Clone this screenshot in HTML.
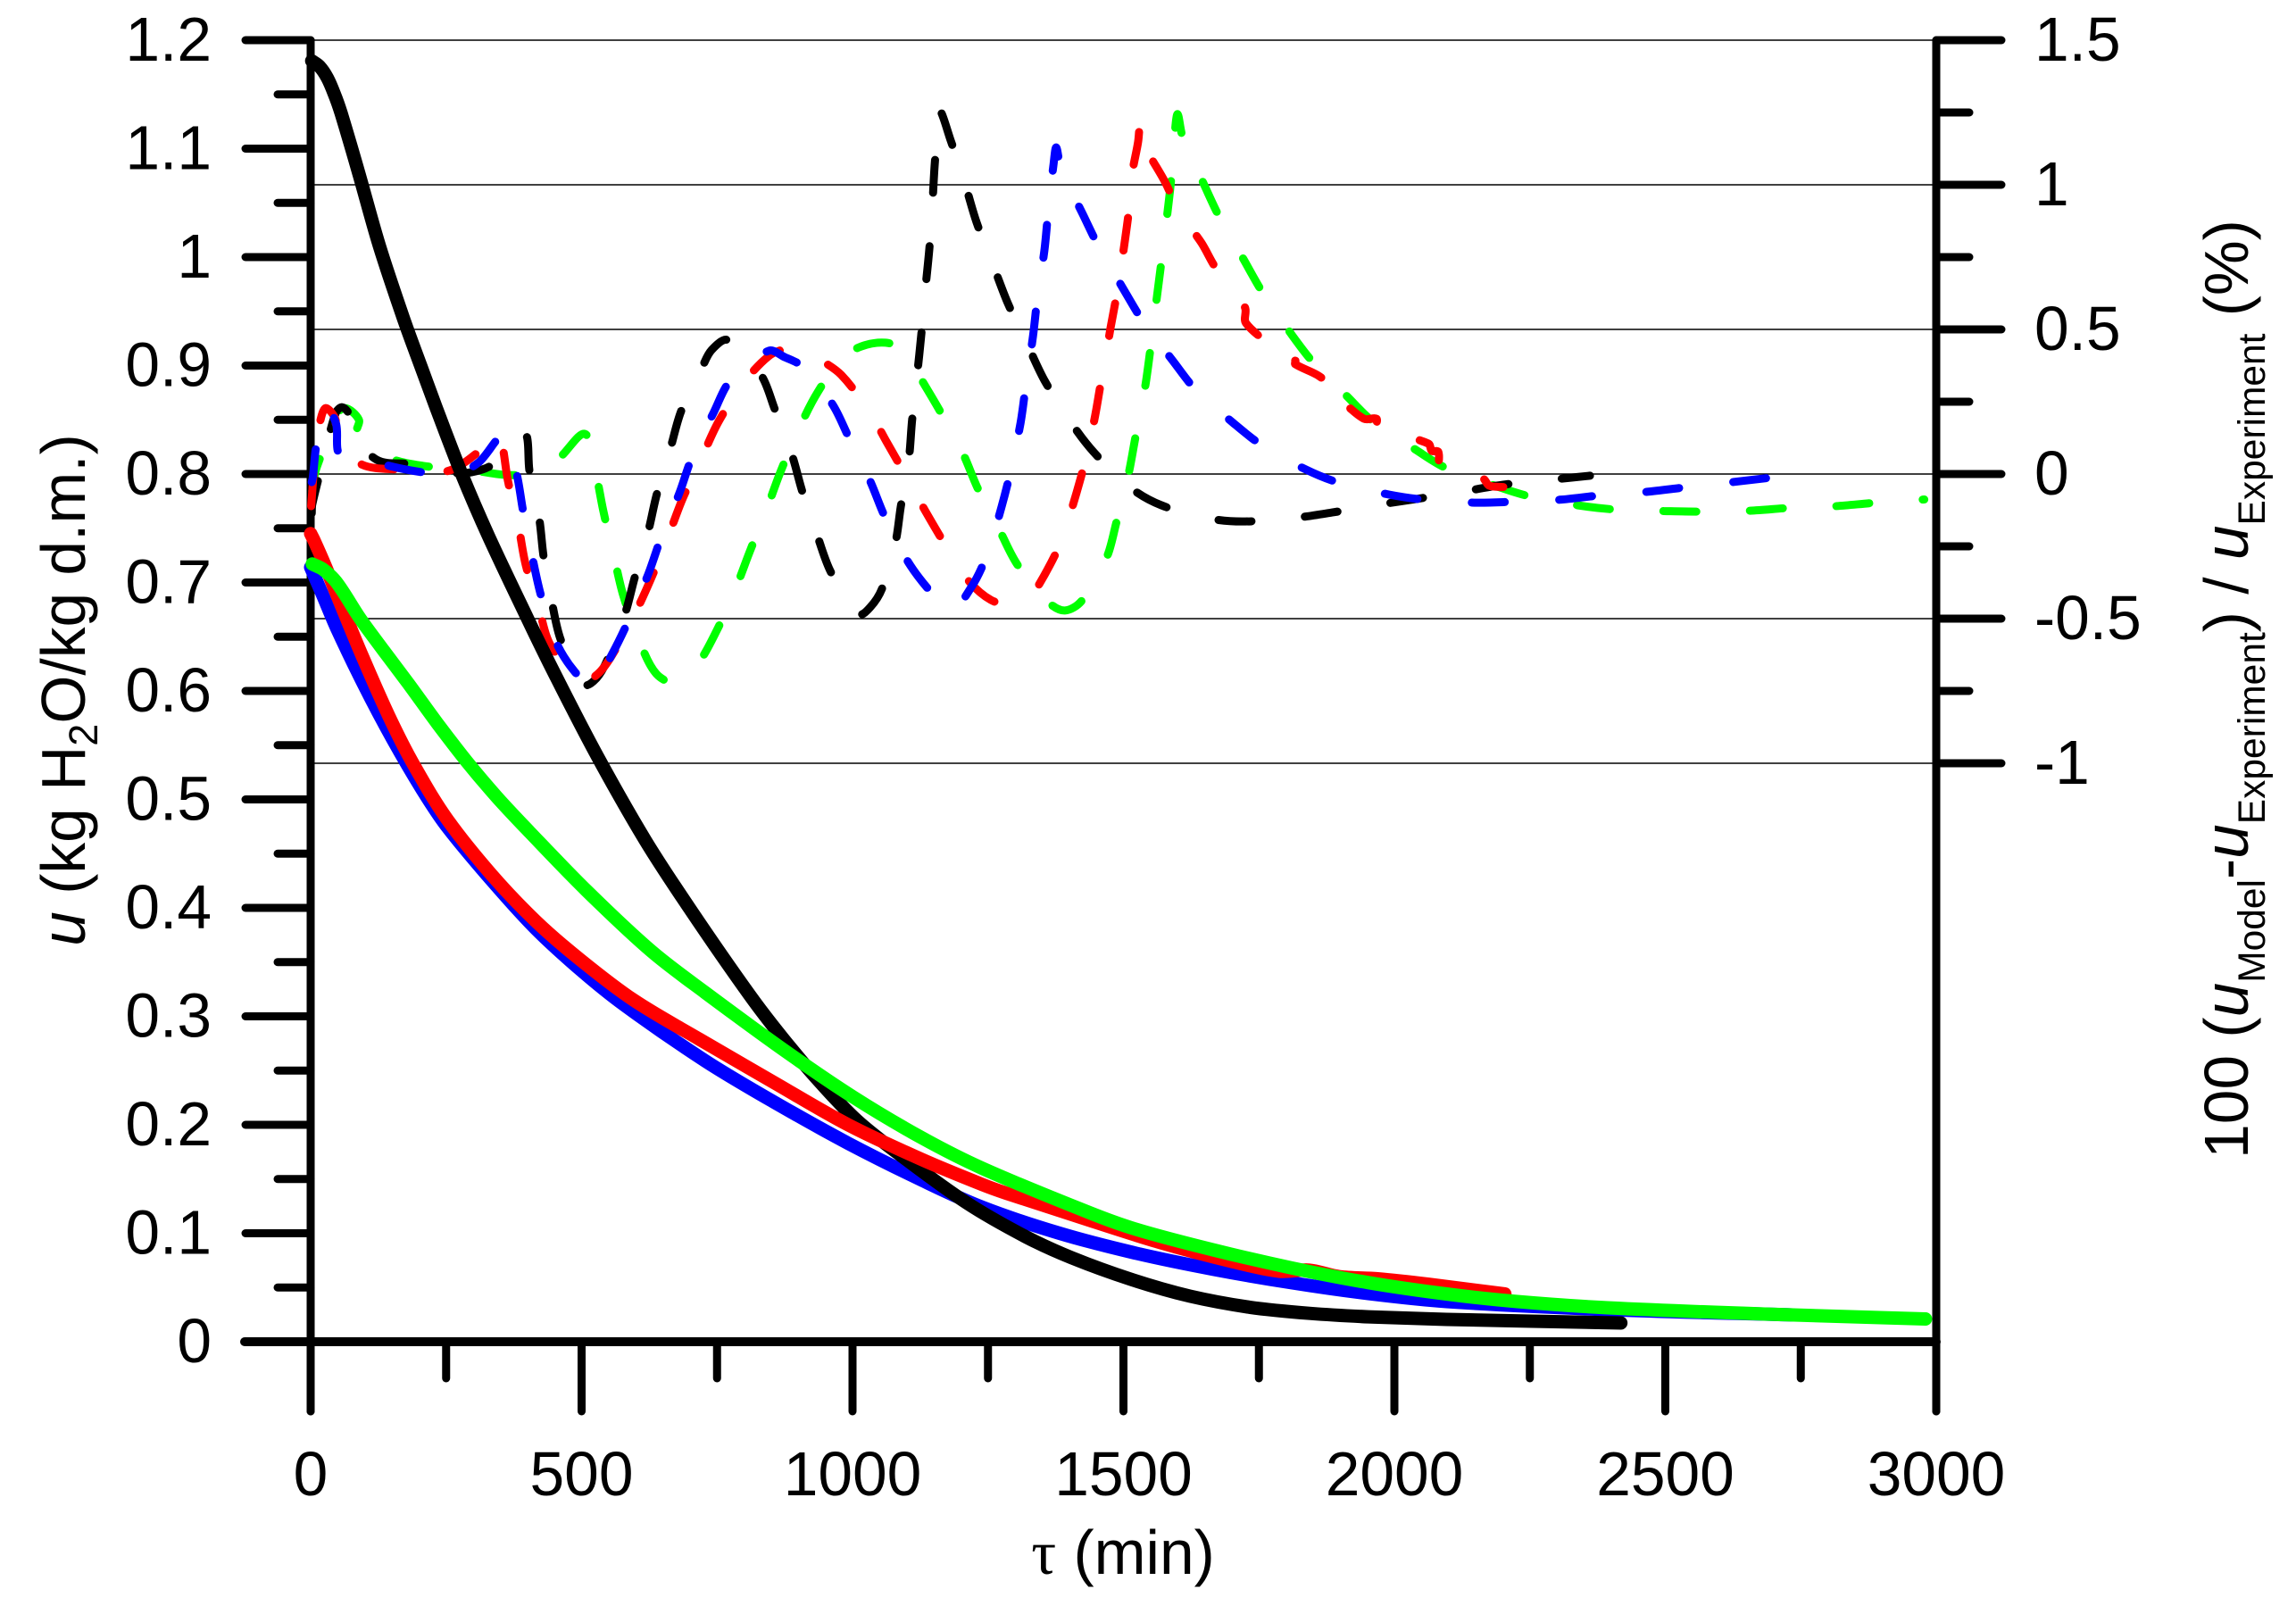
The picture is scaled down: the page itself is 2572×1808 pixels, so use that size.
<!DOCTYPE html>
<html lang="en">
<head>
<meta charset="utf-8">
<title>Moisture content and model deviation versus drying time</title>
<style>
  html, body { margin: 0; padding: 0; background: #fff; }
  svg { display: block; }
  text { font-family: "Liberation Sans", Arial, sans-serif; fill: #000; font-size: 69.5px; }
</style>
</head>
<body>
<svg id="chart" xmlns="http://www.w3.org/2000/svg" width="2572" height="1808" viewBox="0 0 2572 1808">
  <rect x="0" y="0" width="2572" height="1808" fill="#ffffff"/>
  <g id="grid"></g>
  <g id="axes"></g>
  <g id="ticklabels"></g>
  <g id="deviations"></g>
  <g id="moisture"></g>
  <text x="1258" y="1763" text-anchor="middle"><tspan font-family="Liberation Serif, serif">τ</tspan> (min)</text>
  <text transform="translate(95 773) rotate(-90)" text-anchor="middle"><tspan font-style="italic">u</tspan> (kg H<tspan dy="14" font-size="45">2</tspan><tspan dy="-14">O/kg d.m.)</tspan></text>
  <text transform="translate(2518 772) rotate(-90)" text-anchor="middle">100 (<tspan font-style="italic">u</tspan><tspan dy="19" font-size="42.5">Model</tspan><tspan dy="-19">-</tspan><tspan font-style="italic">u</tspan><tspan dy="19" font-size="42.5">Experiment</tspan><tspan dy="-19">) / </tspan><tspan font-style="italic">u</tspan><tspan dy="19" font-size="42.5">Experiment</tspan><tspan dy="-19"> (%)</tspan></text>
</svg>
<script>
// ---- Axis ticks and labels ----
const xMajorTicks = [0, 500, 1000, 1500, 2000, 2500, 3000];
const xMinorTicks = [250, 750, 1250, 1750, 2250, 2750];
const xTickLabels = ["0", "500", "1000", "1500", "2000", "2500", "3000"];
const leftMajorTicks = [0, 0.1, 0.2, 0.3, 0.4, 0.5, 0.6, 0.7, 0.8, 0.9, 1, 1.1, 1.2];
const leftMinorTicks = [0.05, 0.15, 0.25, 0.35, 0.45, 0.55, 0.65, 0.75, 0.85, 0.95, 1.05, 1.15];
const leftTickLabels = ["0", "0.1", "0.2", "0.3", "0.4", "0.5", "0.6", "0.7", "0.8", "0.9", "1", "1.1", "1.2"];
const rightMajorTicks = [-1, -0.5, 0, 0.5, 1, 1.5];
const rightMinorTicks = [-0.75, -0.25, 0.25, 0.75, 1.25];
const rightTickLabels = ["-1", "-0.5", "0", "0.5", "1", "1.5"];

// ---- Moisture content u (solid lines) ----
const blackMoistureTau = [2, 16, 31, 44, 56, 89, 127, 173, 203, 231, 278, 328, 400, 453, 530, 618, 700, 811, 871, 937, 1008, 1086, 1211, 1321, 1404, 1514, 1623, 1733, 1843, 1952, 2096, 2418];
const blackMoistureU = [1.181, 1.176, 1.165, 1.15, 1.133, 1.077, 1.01, 0.941, 0.9, 0.862, 0.801, 0.743, 0.667, 0.613, 0.539, 0.462, 0.399, 0.319, 0.28, 0.241, 0.204, 0.173, 0.128, 0.0965, 0.0775, 0.0575, 0.042, 0.0318, 0.0262, 0.023, 0.0206, 0.0173];
const blueMoistureTau = [0, 20, 48, 97, 152, 206, 250, 333, 415, 498, 580, 728, 855, 992, 1128, 1239, 1382, 1524, 1667, 1811, 1952, 2096, 2394, 2735];
const blueMoistureU = [0.714, 0.691, 0.658, 0.607, 0.555, 0.509, 0.476, 0.426, 0.381, 0.343, 0.31, 0.259, 0.221, 0.183, 0.149, 0.124, 0.1, 0.0815, 0.0667, 0.0543, 0.0444, 0.037, 0.0296, 0.0247];
const redMoistureTau = [0, 7, 28, 58, 97, 147, 189, 250, 333, 415, 498, 596, 717, 855, 992, 1128, 1239, 1283, 1437, 1568, 1700, 1787, 1843, 1898, 1969, 2063, 2204];
const redMoistureU = [0.745, 0.738, 0.714, 0.677, 0.63, 0.574, 0.533, 0.483, 0.431, 0.388, 0.352, 0.315, 0.279, 0.239, 0.2, 0.168, 0.145, 0.137, 0.112, 0.0914, 0.074, 0.065, 0.066, 0.06, 0.058, 0.053, 0.044];
const greenMoistureTau = [3, 23, 48, 91, 135, 180, 234, 288, 344, 404, 509, 629, 728, 876, 1003, 1128, 1239, 1437, 1524, 1667, 1811, 1952, 2096, 2227, 2394, 2684, 2980];
const greenMoistureU = [0.717, 0.712, 0.7, 0.667, 0.637, 0.607, 0.57, 0.535, 0.502, 0.47, 0.416, 0.36, 0.322, 0.268, 0.225, 0.188, 0.16, 0.119, 0.1035, 0.0845, 0.068, 0.0545, 0.044, 0.037, 0.0313, 0.0255, 0.021];

// ---- Relative deviation in % (dashed lines) ----
const blackDevTau = [2, 3, 20, 46, 58, 72, 76, 122, 189, 273, 316, 346, 395, 404, 422, 430, 446, 463, 506, 527, 547, 580, 598, 623, 639, 664, 684, 722, 740, 770, 830, 857, 888, 908, 936, 962, 1013, 1033, 1054, 1079, 1089, 1104, 1110, 1120, 1127, 1135, 1142, 1148, 1152, 1160, 1181, 1209, 1229, 1262, 1287, 1325, 1356, 1404, 1446, 1512, 1570, 1659, 1725, 1819, 1885, 1975, 2041, 2132, 2201, 2293, 2361];
const blackDevPct = [-0.136, -0.105, 0.025, 0.21, 0.231, 0.204, 0.151, 0.049, 0.034, 0.003, 0.015, 0.046, 0.139, 0.009, -0.157, -0.287, -0.451, -0.58, -0.728, -0.707, -0.645, -0.484, -0.358, -0.198, -0.068, 0.089, 0.219, 0.367, 0.429, 0.463, 0.346, 0.222, 0.068, -0.065, -0.219, -0.346, -0.484, -0.46, -0.398, -0.238, -0.114, 0.052, 0.188, 0.355, 0.484, 0.648, 0.784, 0.95, 1.08, 1.256, 1.154, 0.994, 0.87, 0.71, 0.589, 0.438, 0.318, 0.176, 0.074, -0.046, -0.108, -0.154, -0.164, -0.151, -0.133, -0.105, -0.086, -0.059, -0.037, -0.019, -0.006];
const blueDevTau = [2, 4, 12, 30, 47, 51, 68, 152, 219, 267, 310, 356, 379, 392, 409, 425, 451, 488, 522, 557, 589, 623, 647, 680, 704, 743, 776, 845, 875, 906, 962, 993, 1032, 1059, 1100, 1140, 1181, 1219, 1249, 1275, 1292, 1310, 1320, 1333, 1341, 1354, 1361, 1371, 1376, 1385, 1425, 1455, 1501, 1537, 1591, 1634, 1703, 1756, 1837, 1899, 1990, 2056, 2148, 2216, 2305, 2379, 2463, 2537, 2623, 2697];
const blueDevPct = [-0.028, -0.012, 0.117, 0.225, 0.173, 0.074, 0.071, 0.025, 0.003, 0, 0.04, 0.133, 0.009, -0.127, -0.287, -0.42, -0.574, -0.685, -0.731, -0.62, -0.497, -0.346, -0.219, -0.068, 0.059, 0.21, 0.327, 0.426, 0.404, 0.373, 0.244, 0.127, -0.022, -0.145, -0.296, -0.398, -0.472, -0.392, -0.275, -0.114, 0.012, 0.176, 0.309, 0.475, 0.605, 0.772, 0.904, 1.071, 1.129, 1.055, 0.898, 0.784, 0.636, 0.525, 0.392, 0.29, 0.176, 0.099, 0.015, -0.031, -0.071, -0.089, -0.099, -0.096, -0.089, -0.074, -0.062, -0.046, -0.028, -0.012];
const redDevTau = [1, 5, 10, 18, 28, 46, 43, 93, 165, 250, 308, 343, 353, 364, 384, 397, 422, 445, 505, 530, 555, 598, 629, 661, 687, 723, 753, 799, 845, 877, 918, 934, 979, 1032, 1063, 1105, 1135, 1180, 1216, 1255, 1295, 1322, 1341, 1382, 1399, 1420, 1433, 1447, 1458, 1466, 1476, 1489, 1499, 1511, 1516, 1527, 1531, 1536, 1577, 1603, 1644, 1669, 1707, 1715, 1725, 1726, 1778, 1778, 1797, 1799, 1817, 1817, 1867, 1868, 1880, 1881, 1898, 1944, 1967, 1967, 1990, 1990, 2063, 2069, 2081, 2086, 2163, 2175, 2201];
const redDevPct = [-0.111, -0.009, 0.08, 0.185, 0.228, 0.188, 0.127, 0.034, 0.015, 0.009, 0.074, 0.145, 0.105, -0.022, -0.185, -0.315, -0.472, -0.599, -0.713, -0.691, -0.63, -0.484, -0.358, -0.21, -0.083, 0.062, 0.182, 0.315, 0.407, 0.432, 0.429, 0.404, 0.343, 0.213, 0.111, -0.028, -0.13, -0.272, -0.373, -0.435, -0.454, -0.432, -0.392, -0.247, -0.154, -0.022, 0.074, 0.194, 0.312, 0.392, 0.503, 0.636, 0.759, 0.926, 1.037, 1.148, 1.219, 1.148, 1.009, 0.907, 0.799, 0.716, 0.617, 0.605, 0.571, 0.522, 0.432, 0.414, 0.414, 0.392, 0.392, 0.38, 0.33, 0.29, 0.29, 0.256, 0.256, 0.191, 0.191, 0.16, 0.157, 0.148, 0.105, 0.08, 0.077, 0.019, -0.015, -0.04, -0.045];
const greenDevTau = [3, 8, 18, 40, 63, 89, 86, 142, 208, 291, 359, 407, 455, 506, 526, 540, 560, 577, 606, 638, 675, 713, 749, 785, 811, 843, 868, 903, 936, 980, 1016, 1061, 1094, 1124, 1161, 1203, 1231, 1273, 1305, 1362, 1392, 1423, 1468, 1487, 1509, 1522, 1539, 1549, 1560, 1569, 1580, 1588, 1595, 1600, 1610, 1647, 1677, 1722, 1756, 1807, 1850, 1913, 1960, 2040, 2097, 2193, 2249, 2338, 2410, 2497, 2572, 2656, 2731, 2814, 2890, 2978];
const greenDevPct = [-0.059, 0.003, 0.059, 0.188, 0.228, 0.188, 0.142, 0.059, 0.028, 0.015, -0.003, 0.003, 0.049, 0.139, 0.006, -0.127, -0.287, -0.42, -0.574, -0.691, -0.722, -0.66, -0.543, -0.392, -0.265, -0.114, 0.012, 0.164, 0.284, 0.398, 0.441, 0.454, 0.429, 0.336, 0.219, 0.074, -0.049, -0.201, -0.315, -0.444, -0.472, -0.438, -0.293, -0.167, -0.003, 0.127, 0.29, 0.421, 0.586, 0.719, 0.886, 1.018, 1.185, 1.244, 1.16, 1.008, 0.889, 0.741, 0.63, 0.491, 0.386, 0.268, 0.182, 0.083, 0.019, -0.045, -0.077, -0.108, -0.123, -0.128, -0.13, -0.127, -0.117, -0.111, -0.099, -0.088];

// ---- Axis functions ----
const xScale = t => 348 + t * 0.607;
const leftScale = u => 1503 - u * 1215;
const rightScale = p => 531 - p * 324;

const SVG_NS = "http://www.w3.org/2000/svg";
const AX_LEFT = xScale(0);
const AX_RIGHT = xScale(3000);
const AX_TOP = leftScale(1.2);
const AX_BOTTOM = leftScale(0);
const AX_END = 1581;

function line(parent, x1, y1, x2, y2, width, cap) {
  const el = document.createElementNS(SVG_NS, "line");
  el.setAttribute("x1", x1);
  el.setAttribute("y1", y1);
  el.setAttribute("x2", x2);
  el.setAttribute("y2", y2);
  el.setAttribute("stroke", "#000");
  el.setAttribute("stroke-width", width);
  el.setAttribute("stroke-linecap", cap);
  parent.appendChild(el);
  return el;
}

function label(parent, x, y, anchor, content) {
  const el = document.createElementNS(SVG_NS, "text");
  el.setAttribute("x", x);
  el.setAttribute("y", y);
  el.setAttribute("text-anchor", anchor);
  el.textContent = content;
  parent.appendChild(el);
  return el;
}

// Chord-length Catmull-Rom through the data points
function smoothPath(xs, ys) {
  const pts = xs.map((x, i) => [xScale(x), ys[i]]);
  const dist = (a, b) => Math.hypot(a[0] - b[0], a[1] - b[1]);
  const tangent = (a, b, c) => {
    const s = dist(a, b) + dist(b, c);
    return s > 0 ? [(c[0] - a[0]) / s, (c[1] - a[1]) / s] : [0, 0];
  };
  let d = "M" + pts[0][0].toFixed(1) + " " + pts[0][1].toFixed(1);
  for (let i = 0; i < pts.length - 1; i++) {
    const p0 = pts[Math.max(i - 1, 0)];
    const p1 = pts[i];
    const p2 = pts[i + 1];
    const p3 = pts[Math.min(i + 2, pts.length - 1)];
    const len = dist(p1, p2);
    const t1 = tangent(p0, p1, p2);
    const t2 = tangent(p1, p2, p3);
    const c1x = p1[0] + t1[0] * len / 3;
    const c1y = p1[1] + t1[1] * len / 3;
    const c2x = p2[0] - t2[0] * len / 3;
    const c2y = p2[1] - t2[1] * len / 3;
    d += "C" + c1x.toFixed(1) + " " + c1y.toFixed(1) + " " + c2x.toFixed(1) + " " + c2y.toFixed(1) + " " + p2[0].toFixed(1) + " " + p2[1].toFixed(1);
  }
  return d;
}

function curve(parent, xs, ys, scale, color, width, dash) {
  const el = document.createElementNS(SVG_NS, "path");
  el.setAttribute("d", smoothPath(xs, ys.map(scale)));
  el.setAttribute("fill", "none");
  el.setAttribute("stroke", color);
  el.setAttribute("stroke-width", width);
  el.setAttribute("stroke-linecap", "round");
  el.setAttribute("stroke-linejoin", "round");
  if (dash) el.setAttribute("stroke-dasharray", dash);
  parent.appendChild(el);
  return el;
}

const gridGroup = document.getElementById("grid");
const axesGroup = document.getElementById("axes");
const labelGroup = document.getElementById("ticklabels");
const devGroup = document.getElementById("deviations");
const moistGroup = document.getElementById("moisture");

// Gridlines follow the right axis major ticks
rightMajorTicks.forEach(p => {
  const g = line(gridGroup, AX_LEFT, rightScale(p), AX_RIGHT, rightScale(p), 1.6, "butt");
  
  
});

// Axis lines
const leftAxis = line(axesGroup, AX_LEFT, AX_TOP, AX_LEFT, AX_END, 9, "round");


const rightAxis = line(axesGroup, AX_RIGHT, AX_TOP, AX_RIGHT, AX_END, 9, "round");


const xAxis = line(axesGroup, 274, AX_BOTTOM, AX_RIGHT, AX_BOTTOM, 10, "round");



// X ticks
xMajorTicks.forEach((t, i) => {
  const tick = line(axesGroup, xScale(t), AX_BOTTOM, xScale(t), AX_END, 9, "round");
  
  
  const lab = label(labelGroup, xScale(t), 1675, "middle", xTickLabels[i]);
  
  
});
xMinorTicks.forEach(t => {
  const tick = line(axesGroup, xScale(t), AX_BOTTOM, xScale(t), 1544, 9, "round");
  
  
});

// Left ticks
leftMajorTicks.forEach((u, i) => {
  const tick = line(axesGroup, 275, leftScale(u), AX_LEFT, leftScale(u), 9, "round");
  
  
  const lab = label(labelGroup, 237, leftScale(u) + 23, "end", leftTickLabels[i]);
  
  
});
leftMinorTicks.forEach(u => {
  const tick = line(axesGroup, 311, leftScale(u), AX_LEFT, leftScale(u), 9, "round");
  
  
});

// Right ticks
rightMajorTicks.forEach((p, i) => {
  const tick = line(axesGroup, AX_RIGHT, rightScale(p), 2242, rightScale(p), 9, "round");
  
  
  const lab = label(labelGroup, 2279, rightScale(p) + 23, "start", rightTickLabels[i]);
  
  
});
rightMinorTicks.forEach(p => {
  const tick = line(axesGroup, AX_RIGHT, rightScale(p), 2206, rightScale(p), 9, "round");
  
  
});

// Dashed deviation curves
const DEV_WIDTH = 9;
const DEV_DASH = "37 60";
const DEV_DASH_BLUE = "37 61";
const devGreen = curve(devGroup, greenDevTau, greenDevPct, rightScale, "#00ff00", DEV_WIDTH, DEV_DASH);


const devBlack = curve(devGroup, blackDevTau, blackDevPct, rightScale, "#000000", DEV_WIDTH, DEV_DASH);


const devRed = curve(devGroup, redDevTau, redDevPct, rightScale, "#ff0000", DEV_WIDTH, DEV_DASH);


const devBlue = curve(devGroup, blueDevTau, blueDevPct, rightScale, "#0000ff", DEV_WIDTH, DEV_DASH_BLUE);



// Solid moisture curves
const SOLID_WIDTH = 15;
const moistBlue = curve(moistGroup, blueMoistureTau, blueMoistureU, leftScale, "#0000ff", SOLID_WIDTH);


const moistBlack = curve(moistGroup, blackMoistureTau, blackMoistureU, leftScale, "#000000", SOLID_WIDTH);


const moistRed = curve(moistGroup, redMoistureTau, redMoistureU, leftScale, "#ff0000", SOLID_WIDTH);


const moistGreen = curve(moistGroup, greenMoistureTau, greenMoistureU, leftScale, "#00ff00", SOLID_WIDTH);


</script>
</body>
</html>
